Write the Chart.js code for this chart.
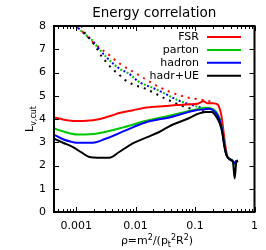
<!DOCTYPE html>
<html>
<head>
<meta charset="utf-8">
<script src="https://cdn.jsdelivr.net/npm/chart.js@4"></script>
<style>html,body{margin:0;padding:0;background:#fff}</style>
</head>
<body>
<canvas id="chart" width="266" height="250"></canvas>
<script>
// series names and colours
const seriesNames = ["FSR", "parton", "hadron", "hadr+UE"];
const seriesColors = ["#ff0000", "#00c800", "#0000ff", "#000000"];

// solid curves
const fsrX = [0.00042, 0.0006, 0.0008, 0.001, 0.0015, 0.0025, 0.004, 0.0053, 0.0088, 0.015, 0.032, 0.05, 0.08, 0.11, 0.14, 0.16, 0.2, 0.24, 0.255, 0.275, 0.29, 0.31, 0.33, 0.35, 0.383, 0.434, 0.464, 0.494, 0.527];
const fsrY = [4.07, 3.98, 3.93, 3.91, 3.92, 4.0, 4.15, 4.26, 4.37, 4.49, 4.56, 4.6, 4.63, 4.66, 4.76, 4.68, 4.68, 4.62, 4.5, 4.2, 3.8, 3.2, 2.7, 2.4, 2.27, 2.18, 2.08, 2.15, 2.2];

const partonX = [0.00042, 0.0006, 0.0008, 0.0011, 0.0017, 0.0025, 0.006, 0.0146, 0.04, 0.1, 0.147, 0.2, 0.229, 0.261, 0.286, 0.309, 0.3375, 0.383, 0.434, 0.464, 0.494, 0.527];
const partonY = [3.6, 3.47, 3.38, 3.33, 3.34, 3.4, 3.63, 3.91, 4.16, 4.4, 4.48, 4.42, 4.3, 4.0, 3.55, 2.95, 2.47, 2.28, 2.2, 2.05, 2.18, 2.2];

const hadronX = [0.00042, 0.0006, 0.0008, 0.001, 0.0019, 0.0032, 0.0068, 0.0146, 0.04, 0.1, 0.147, 0.167, 0.229, 0.261, 0.286, 0.309, 0.3375, 0.383, 0.434, 0.464, 0.494, 0.527];
const hadronY = [3.33, 3.13, 3.03, 2.98, 2.98, 3.16, 3.51, 3.85, 4.09, 4.37, 4.42, 4.44, 4.23, 3.94, 3.5, 2.92, 2.45, 2.27, 2.18, 2.1, 2.2, 2.2];

const hadrUeX = [0.00042, 0.0006, 0.00087, 0.00125, 0.00167, 0.0036, 0.0053, 0.0088, 0.015, 0.025, 0.04, 0.077, 0.114, 0.15, 0.19, 0.229, 0.261, 0.286, 0.309, 0.3375, 0.383, 0.434, 0.464, 0.494, 0.527];
const hadrUeY = [3.16, 2.98, 2.8, 2.55, 2.37, 2.33, 2.58, 2.94, 3.2, 3.44, 3.73, 4.02, 4.23, 4.3, 4.3, 4.09, 3.8, 3.44, 2.87, 2.44, 2.27, 2.15, 1.44, 2.15, 2.2];

// dotted curves
const fsrDotX = [0.0008, 0.001, 0.0013, 0.0021, 0.0034, 0.0053, 0.0088, 0.015, 0.022, 0.035, 0.068, 0.15, 0.2];
const fsrDotY = [8.5, 8.0, 7.74, 7.2, 6.8, 6.4, 6.05, 5.7, 5.45, 5.2, 4.95, 4.8, 4.72];

const partonDotX = [0.0008, 0.001, 0.00187, 0.0024, 0.0032, 0.0053, 0.0077, 0.0115, 0.0178, 0.0244, 0.0527, 0.114, 0.15, 0.2];
const partonDotY = [8.6, 8.05, 7.38, 7.03, 6.67, 6.17, 5.95, 5.59, 5.38, 5.23, 4.8, 4.52, 4.47, 4.44];

const hadronDotX = [0.0008, 0.001, 0.00187, 0.0024, 0.0032, 0.0053, 0.0077, 0.0115, 0.0178, 0.0244, 0.0527, 0.114, 0.15, 0.18];
const hadronDotY = [8.6, 8.05, 7.38, 7.03, 6.67, 6.17, 5.95, 5.59, 5.38, 5.23, 4.8, 4.52, 4.45, 4.44];

const hadrUeDotX = [0.0011, 0.00137, 0.00178, 0.00215, 0.0026, 0.0032, 0.004, 0.0053, 0.0068, 0.0088, 0.0147, 0.0316, 0.068, 0.114, 0.15];
const hadrUeDotY = [8.3, 7.74, 7.38, 7.1, 6.74, 6.45, 6.17, 5.9, 5.66, 5.5, 5.3, 4.88, 4.52, 4.37, 4.3];

// axis ticks
const xTickValues = [0.001, 0.01, 0.1, 1];
const xTickLabels = ["0.001", "0.01", "0.1", "1"];
const yTickValues = [0, 1, 2, 3, 4, 5, 6, 7, 8];

const FONT = "'DejaVu Sans', sans-serif";

function pts(xs, ys) {
    return xs.map((x, i) => ({ x: x, y: ys[i] }));
}

const solid = [[fsrX, fsrY], [partonX, partonY], [hadronX, hadronY], [hadrUeX, hadrUeY]];
const dotted = [[fsrDotX, fsrDotY], [partonDotX, partonDotY], [hadronDotX, hadronDotY], [hadrUeDotX, hadrUeDotY]];

const datasets = [];
dotted.forEach((d, i) => {
    datasets.push({
        label: seriesNames[i] + " dotted",
        data: pts(d[0], d[1]),
        borderColor: seriesColors[i],
        borderWidth: 2,
        borderDash: [2, 5],
        borderDashOffset: i === 2 ? 3.5 : 0,
        order: 4 - i + 10
    });
});
solid.forEach((d, i) => {
    datasets.push({
        label: seriesNames[i],
        data: pts(d[0], d[1]),
        borderColor: seriesColors[i],
        borderWidth: 2,
        order: 4 - i
    });
});

const decorPlugin = {
    id: "decor",
    afterDraw(chart) {
        const c = chart.ctx;
        const a = chart.chartArea;
        const xs = chart.scales.x;
        const ys = chart.scales.y;
        c.save();
        c.strokeStyle = "#000";
        c.fillStyle = "#000";

        // frame
        c.lineWidth = 2;
        c.strokeRect(a.left, a.top, a.right - a.left, a.bottom - a.top);

        // ticks
        c.lineWidth = 1;
        c.beginPath();
        yTickValues.forEach(v => {
            const py = Math.round(ys.getPixelForValue(v)) + 0.5;
            c.moveTo(a.left, py); c.lineTo(a.left + 5, py);
            c.moveTo(a.right, py); c.lineTo(a.right - 5, py);
        });
        for (let e = -4; e <= 0; e++) {
            for (let m = 1; m <= 9; m++) {
                const v = m * Math.pow(10, e);
                if (v < xs.min || v > xs.max) continue;
                const px = Math.round(xs.getPixelForValue(v)) + 0.5;
                const len = m === 1 ? 5 : 3;
                c.moveTo(px, a.bottom); c.lineTo(px, a.bottom - len);
                c.moveTo(px, a.top); c.lineTo(px, a.top + len);
            }
        }
        c.stroke();

        // title
        c.font = "13.5px " + FONT;
        c.textAlign = "center";
        c.textBaseline = "alphabetic";
        c.fillText("Energy correlation", (a.left + a.right) / 2, 17);

        // legend
        c.font = "11px " + FONT;
        c.textAlign = "right";
        c.textBaseline = "middle";
        seriesNames.forEach((name, i) => {
            const ly = 37 + i * 12.9;
            c.fillStyle = "#000";
            c.fillText(name, 199, ly + 0.5);
            c.strokeStyle = seriesColors[i];
            c.lineWidth = 2;
            c.beginPath();
            c.moveTo(207, ly); c.lineTo(241, ly);
            c.stroke();
        });

        // y axis title: L_{v,cut}
        c.fillStyle = "#000";
        c.save();
        c.translate(33, 132);
        c.rotate(-Math.PI / 2);
        c.textAlign = "left";
        c.textBaseline = "alphabetic";
        c.font = "11px " + FONT;
        c.fillText("L", 0, 0);
        const lw = c.measureText("L").width;
        c.font = "8px " + FONT;
        c.fillText("v,cut", lw, 3);
        c.restore();

        // x axis title: rho = m^2/(p_t^2 R^2)
        const parts = [
            ["ρ=m", 0], ["2", -1], ["/(p", 0], ["t", 1], ["2", -1], ["R", 0], ["2", -1], [")", 0]
        ];
        const fontFor = s => (s === 0 ? "11px " : "8px ") + FONT;
        let total = 0;
        parts.forEach(p => { c.font = fontFor(p[1]); total += c.measureText(p[0]).width; });
        let cx = 157 - total / 2;
        const base = 244;
        c.textAlign = "left";
        c.textBaseline = "alphabetic";
        parts.forEach(p => {
            c.font = fontFor(p[1]);
            const dy = p[1] === -1 ? -4.5 : (p[1] === 1 ? 3 : 0);
            c.fillText(p[0], cx, base + dy);
            cx += c.measureText(p[0]).width;
        });
        c.restore();
    }
};

new Chart(document.getElementById("chart"), {
    type: "line",
    data: { datasets: datasets },
    options: {
        responsive: false,
        animation: false,
        devicePixelRatio: 1,
        layout: { padding: { top: 26, right: 10, left: 0, bottom: 0 } },
        elements: {
            point: { radius: 0 },
            line: { cubicInterpolationMode: "monotone", borderCapStyle: "butt" }
        },
        plugins: {
            legend: { display: false },
            title: { display: false },
            tooltip: { enabled: false }
        },
        scales: {
            x: {
                type: "logarithmic",
                min: 0.000424,
                max: 1,
                afterFit(scale) { scale.height = 38; },
                afterBuildTicks(scale) { scale.ticks = xTickValues.map(v => ({ value: v })); },
                grid: { display: false, drawTicks: false },
                border: { display: false },
                ticks: {
                    autoSkip: false,
                    maxRotation: 0,
                    padding: 8,
                    color: "#000",
                    font: { family: FONT, size: 11 },
                    callback: (v) => {
                        const i = xTickValues.indexOf(v);
                        return i >= 0 ? xTickLabels[i] : "";
                    }
                }
            },
            y: {
                min: 0,
                max: 8,
                afterFit(scale) { scale.width = 54; },
                afterBuildTicks(scale) { scale.ticks = yTickValues.map(v => ({ value: v })); },
                grid: { display: false, drawTicks: false },
                border: { display: false },
                ticks: {
                    padding: 8,
                    color: "#000",
                    font: { family: FONT, size: 11 }
                }
            }
        }
    },
    plugins: [decorPlugin]
});
</script>
</body>
</html>
